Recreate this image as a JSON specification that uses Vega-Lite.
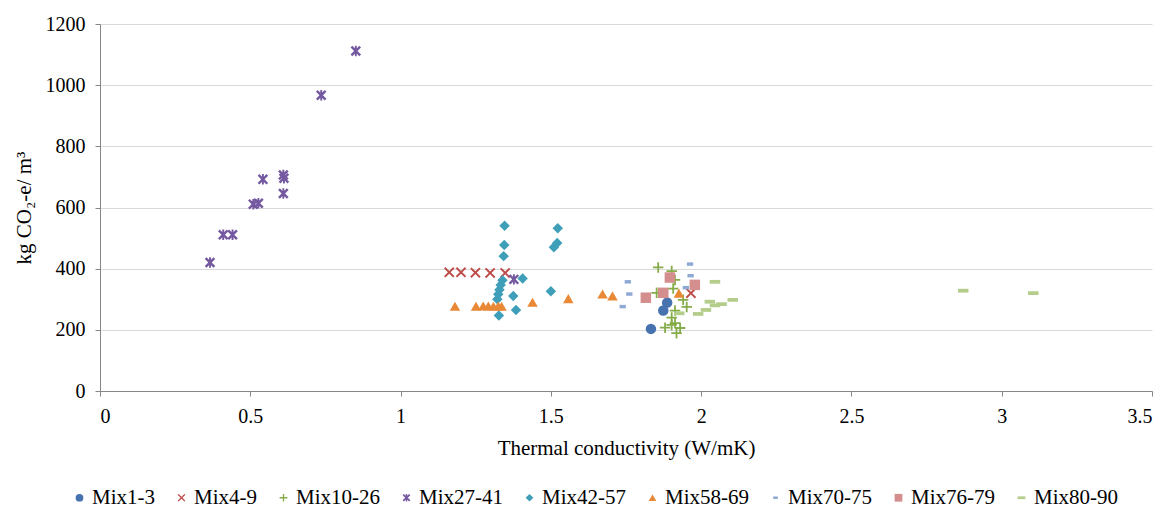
{
  "$schema": "https://vega.github.io/schema/vega-lite/v6.json",
  "width": 1052,
  "height": 367,
  "autosize": {"type": "none"},
  "padding": {"left": 100, "top": 24, "right": 18, "bottom": 118},
  "background": "white",
  "config": {
    "view": {"stroke": null},
    "font": "Liberation Serif",
    "style": {
      "guide-label": {"font": "Liberation Serif"},
      "guide-title": {"font": "Liberation Serif"}
    },
    "axis": {
      "labelFont": "Liberation Serif",
      "titleFont": "Liberation Serif",
      "labelFontSize": 20,
      "titleFontSize": 21,
      "labelColor": "#000000",
      "titleColor": "#000000",
      "titleFontWeight": "normal",
      "domainColor": "#868686",
      "tickColor": "#868686",
      "tickSize": 5,
      "gridColor": "#D9D9D9",
      "gridWidth": 1
    },
    "legend": {
      "labelFont": "Liberation Serif",
      "labelFontSize": 21,
      "labelColor": "#000000"
    }
  },
  "data": {
    "values": [
      {"series": "Mix1-3", "k": 1.887, "co2": 289},
      {"series": "Mix1-3", "k": 1.874, "co2": 263},
      {"series": "Mix1-3", "k": 1.833, "co2": 203},
      {"series": "Mix4-9", "k": 1.162, "co2": 388},
      {"series": "Mix4-9", "k": 1.201, "co2": 388},
      {"series": "Mix4-9", "k": 1.249, "co2": 387},
      {"series": "Mix4-9", "k": 1.298, "co2": 386},
      {"series": "Mix4-9", "k": 1.348, "co2": 386},
      {"series": "Mix4-9", "k": 1.966, "co2": 320},
      {"series": "Mix10-26", "k": 1.857, "co2": 404},
      {"series": "Mix10-26", "k": 1.902, "co2": 392},
      {"series": "Mix10-26", "k": 1.913, "co2": 363},
      {"series": "Mix10-26", "k": 1.907, "co2": 335},
      {"series": "Mix10-26", "k": 1.852, "co2": 321},
      {"series": "Mix10-26", "k": 1.940, "co2": 298},
      {"series": "Mix10-26", "k": 1.952, "co2": 275},
      {"series": "Mix10-26", "k": 1.913, "co2": 263},
      {"series": "Mix10-26", "k": 1.902, "co2": 240},
      {"series": "Mix10-26", "k": 1.913, "co2": 222},
      {"series": "Mix10-26", "k": 1.880, "co2": 207},
      {"series": "Mix10-26", "k": 1.902, "co2": 216},
      {"series": "Mix10-26", "k": 1.930, "co2": 206},
      {"series": "Mix10-26", "k": 1.918, "co2": 189},
      {"series": "Mix27-41", "k": 0.366, "co2": 420},
      {"series": "Mix27-41", "k": 0.410, "co2": 511},
      {"series": "Mix27-41", "k": 0.441, "co2": 511},
      {"series": "Mix27-41", "k": 0.510, "co2": 611},
      {"series": "Mix27-41", "k": 0.527, "co2": 614},
      {"series": "Mix27-41", "k": 0.542, "co2": 692},
      {"series": "Mix27-41", "k": 0.610, "co2": 706},
      {"series": "Mix27-41", "k": 0.612, "co2": 696},
      {"series": "Mix27-41", "k": 0.610, "co2": 646},
      {"series": "Mix27-41", "k": 0.736, "co2": 967},
      {"series": "Mix27-41", "k": 0.851, "co2": 1112},
      {"series": "Mix27-41", "k": 1.377, "co2": 365},
      {"series": "Mix42-57", "k": 1.346, "co2": 540},
      {"series": "Mix42-57", "k": 1.523, "co2": 532},
      {"series": "Mix42-57", "k": 1.345, "co2": 477},
      {"series": "Mix42-57", "k": 1.343, "co2": 441},
      {"series": "Mix42-57", "k": 1.510, "co2": 470},
      {"series": "Mix42-57", "k": 1.521, "co2": 484},
      {"series": "Mix42-57", "k": 1.406, "co2": 368},
      {"series": "Mix42-57", "k": 1.339, "co2": 362},
      {"series": "Mix42-57", "k": 1.333, "co2": 347},
      {"series": "Mix42-57", "k": 1.329, "co2": 331},
      {"series": "Mix42-57", "k": 1.325, "co2": 316},
      {"series": "Mix42-57", "k": 1.322, "co2": 300},
      {"series": "Mix42-57", "k": 1.327, "co2": 247},
      {"series": "Mix42-57", "k": 1.375, "co2": 311},
      {"series": "Mix42-57", "k": 1.384, "co2": 265},
      {"series": "Mix42-57", "k": 1.500, "co2": 326},
      {"series": "Mix58-69", "k": 1.181, "co2": 277},
      {"series": "Mix58-69", "k": 1.251, "co2": 277},
      {"series": "Mix58-69", "k": 1.275, "co2": 278},
      {"series": "Mix58-69", "k": 1.292, "co2": 278},
      {"series": "Mix58-69", "k": 1.309, "co2": 277},
      {"series": "Mix58-69", "k": 1.325, "co2": 278},
      {"series": "Mix58-69", "k": 1.336, "co2": 277},
      {"series": "Mix58-69", "k": 1.439, "co2": 290},
      {"series": "Mix58-69", "k": 1.558, "co2": 302},
      {"series": "Mix58-69", "k": 1.672, "co2": 317},
      {"series": "Mix58-69", "k": 1.705, "co2": 311},
      {"series": "Mix58-69", "k": 1.926, "co2": 320},
      {"series": "Mix70-75", "k": 1.963, "co2": 415},
      {"series": "Mix70-75", "k": 1.965, "co2": 377},
      {"series": "Mix70-75", "k": 1.756, "co2": 357},
      {"series": "Mix70-75", "k": 1.761, "co2": 317},
      {"series": "Mix70-75", "k": 1.739, "co2": 276},
      {"series": "Mix70-75", "k": 1.949, "co2": 338},
      {"series": "Mix76-79", "k": 1.896, "co2": 371},
      {"series": "Mix76-79", "k": 1.979, "co2": 347},
      {"series": "Mix76-79", "k": 1.874, "co2": 321},
      {"series": "Mix76-79", "k": 1.816, "co2": 305},
      {"series": "Mix80-90", "k": 2.046, "co2": 357},
      {"series": "Mix80-90", "k": 2.029, "co2": 292},
      {"series": "Mix80-90", "k": 2.046, "co2": 280},
      {"series": "Mix80-90", "k": 2.068, "co2": 284},
      {"series": "Mix80-90", "k": 2.105, "co2": 298},
      {"series": "Mix80-90", "k": 2.016, "co2": 265},
      {"series": "Mix80-90", "k": 1.990, "co2": 252},
      {"series": "Mix80-90", "k": 1.927, "co2": 254},
      {"series": "Mix80-90", "k": 2.872, "co2": 328},
      {"series": "Mix80-90", "k": 3.105, "co2": 320}
    ]
  },
  "mark": {"type": "point", "filled": true, "opacity": 1, "size": 110},
  "encoding": {
    "x": {
      "field": "k",
      "type": "quantitative",
      "scale": {"domain": [0, 3.5], "nice": false, "zero": true},
      "axis": {
        "title": "Thermal conductivity (W/mK)",
        "values": [0, 0.5, 1, 1.5, 2, 2.5, 3, 3.5],
        "format": ".1~f",
        "grid": false,
        "labelFont": "Liberation Serif",
        "titleFont": "Liberation Serif",
        "labelPadding": 10,
        "titlePadding": 11
      }
    },
    "y": {
      "field": "co2",
      "type": "quantitative",
      "scale": {"domain": [0, 1200], "nice": false},
      "axis": {
        "title": "kg CO₂-e/ m³",
        "values": [0, 200, 400, 600, 800, 1000, 1200],
        "format": "d",
        "grid": true,
        "labelFont": "Liberation Serif",
        "titleFont": "Liberation Serif",
        "labelPadding": 10,
        "titlePadding": 11
      }
    },
    "color": {
      "field": "series",
      "type": "nominal",
      "scale": {
        "domain": ["Mix1-3", "Mix4-9", "Mix10-26", "Mix27-41", "Mix42-57", "Mix58-69", "Mix70-75", "Mix76-79", "Mix80-90"],
        "range": ["#4673B0", "#BE4B48", "#86AC49", "#7559A0", "#409FB8", "#E98936", "#8EA9D4", "#D48E8E", "#B4CD8A"]
      },
      "legend": {
        "title": null,
        "orient": "none",
        "direction": "horizontal",
        "legendX": -31,
        "legendY": 463,
        "symbolSize": 60,
        "labelOffset": 2,
        "labelFont": "Liberation Serif",
        "columnPadding": 16,
        "padding": 0
      }
    },
    "shape": {
      "field": "series",
      "type": "nominal",
      "scale": {
        "domain": ["Mix1-3", "Mix4-9", "Mix10-26", "Mix27-41", "Mix42-57", "Mix58-69", "Mix70-75", "Mix76-79", "Mix80-90"],
        "range": [
          "circle",
          "M0,-0.255L0.745,-1L1,-0.745L0.255,0L1,0.745L0.745,1L0,0.255L-0.745,1L-1,0.745L-0.255,0L-1,-0.745L-0.745,-1Z",
          "M-0.17,-1H0.17V-0.17H1V0.17H0.17V1H-0.17V0.17H-1V-0.17H-0.17Z",
          "M0,-0.33L0.67,-1L1,-0.67L0.33,0L1,0.67L0.67,1L0,0.33L-0.67,1L-1,0.67L-0.33,0L-1,-0.67L-0.67,-1ZM-0.18,-1H0.18V1H-0.18Z",
          "diamond",
          "triangle-up",
          "M-0.6,-0.33H0.6V0.33H-0.6Z",
          "square",
          "M-1,-0.36H1V0.36H-1Z"
        ]
      },
      "legend": null
    }
  }
}
